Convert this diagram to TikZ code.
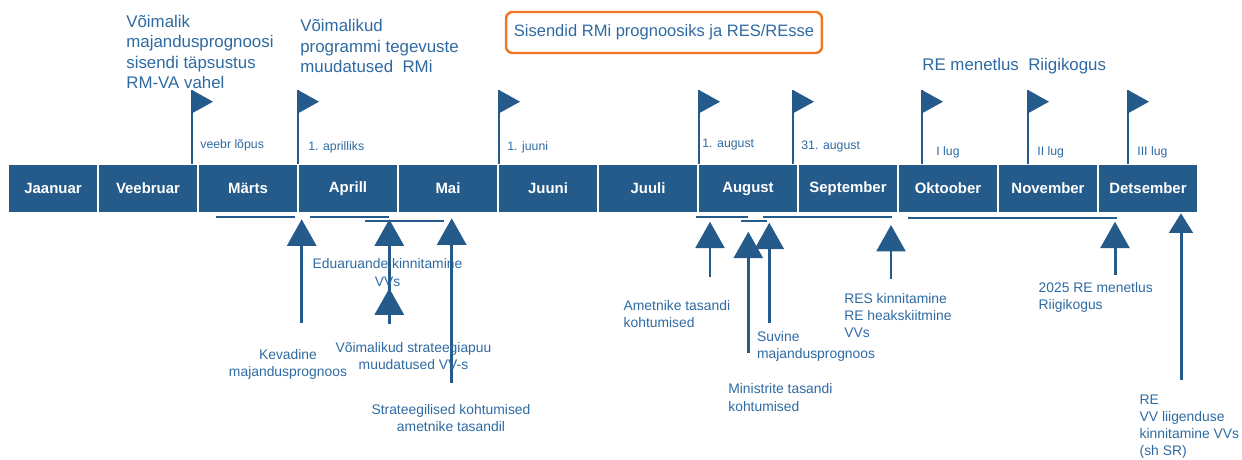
\documentclass[tikz,border=0pt]{standalone}
\usepackage{fontspec}
\setmainfont{Liberation Sans}
\usetikzlibrary{arrows.meta}
\definecolor{barblue}{RGB}{36,91,138}
\definecolor{labelblue}{RGB}{46,106,162}
\definecolor{boxorange}{RGB}{240,118,36}

\begin{document}
\begin{tikzpicture}[x=0.02cm,y=-0.02cm,
  month/.style={rectangle, fill=barblue, draw=white, line width=1.1pt,
    minimum width=2cm, minimum height=0.98cm, inner sep=0pt, outer sep=0pt,
    text=white, font=\fontsize{8.5}{10}\selectfont\bfseries},
  toplabel/.style={anchor=base west, inner sep=0pt, align=left, text=labelblue,
    font=\fontsize{9.6}{11.5}\selectfont},
  flaglabel/.style={anchor=base west, inner sep=0pt, text=labelblue,
    font=\fontsize{7}{8.4}\selectfont},
  notec/.style={anchor=base, inner sep=0pt, align=center, text=labelblue,
    font=\fontsize{7.9}{9.75}\selectfont},
  notel/.style={anchor=base west, inner sep=0pt, align=left, text=labelblue,
    font=\fontsize{7.9}{9.75}\selectfont},
  rail/.style={draw=barblue, line width=1.25pt},
  uparrow/.style={draw=barblue, line width=1.7pt,
    -{Triangle[width=0.58cm,length=0.53cm]}},
  smallarrow/.style={draw=barblue, line width=1.7pt,
    -{Triangle[width=0.47cm,length=0.39cm]}},
  flagpin/.pic={
    \draw[barblue, line width=1.1pt] (0,0) -- (0,-74);
    \fill[barblue] (0,-74) -- (21,-62.3) -- (0,-50.7) -- cycle;
  }
]
\useasboundingbox (0,0) rectangle (1242,460);

% month bar
\node[month, minimum width=1.8cm] (jan) at (53,188.5) {Jaanuar};
\node[month] (feb) at (148,188.5) {Veebruar};
\node[month] (mar) at (248,188.5) {Märts};
\node[month] (apr) at (348,188.5) {Aprill};
\node[month] (may) at (448,188.5) {Mai};
\node[month] (jun) at (548,188.5) {Juuni};
\node[month] (jul) at (648,188.5) {Juuli};
\node[month] (aug) at (748,188.5) {August};
\node[month] (sep) at (848,188.5) {September};
\node[month] (oct) at (948,188.5) {Oktoober};
\node[month] (nov) at (1048,188.5) {November};
\node[month] (dec) at (1148,188.5) {Detsember};

% periods under the bar
\draw[rail] (216,216.8) -- (295,216.8);
\draw[rail] (310,216.8) -- (389,216.8);
\draw[rail] (365,221) -- (444,221);
\draw[rail] (696,216.8) -- (748,216.8);
\draw[rail] (741,221) -- (767,221);
\draw[rail] (763,216.8) -- (892,216.8);
\draw[rail] (908,218) -- (1117,218);

% flags with deadlines
\pic at (192,164) {flagpin};
\pic at (298,164) {flagpin};
\pic at (499,164) {flagpin};
\pic at (699,164) {flagpin};
\pic at (793,164) {flagpin};
\pic at (922,164) {flagpin};
\pic at (1028,164) {flagpin};
\pic at (1128,164) {flagpin};

\node[flaglabel] (fl1) at (200,148.3) {veebr lõpus};
\node[flaglabel] (fl2) at (308,150.7) {1. aprilliks};
\node[flaglabel] (fl3) at (507,150) {1. juuni};
\node[flaglabel] (fl4) at (702,147.7) {1. august};
\node[flaglabel] (fl5) at (801,149) {31. august};
\node[flaglabel] (fl6) at (936,155) {I lug};
\node[flaglabel] (fl7) at (1037,155) {II lug};
\node[flaglabel] (fl8) at (1137,155) {III lug};

% headings above the flags (base = baseline of the last line)
\node[toplabel] (t1) at (126,88.3) {Võimalik\\majandusprognoosi\\sisendi täpsustus\\RM-VA vahel};
\node[toplabel] (t2) at (300,72.3) {Võimalikud\\programmi tegevuste\\muudatused~ RMi};
\node[toplabel] (t3) at (922,70) {RE menetlus~ Riigikogus};
\node[rectangle, rounded corners=0.13cm, draw=boxorange, line width=1.4pt,
  minimum width=6.32cm, minimum height=0.82cm, inner sep=0pt,
  text=labelblue, font=\fontsize{9.4}{11}\selectfont] (inputs) at (664,32.5)
  {Sisendid RMi prognoosiks ja RES/REsse};

% arrow end points
\coordinate (kevT) at (301.7,219.3);  \coordinate (kevB) at (301.7,323);
\coordinate (eduT) at (389.3,219.3);  \coordinate (eduB) at (389.3,324);
\coordinate (eduM) at (389.3,288.3);
\coordinate (strT) at (451.7,218.3);  \coordinate (strB) at (451.7,382.7);
\coordinate (ameT) at (710,221.7);    \coordinate (ameB) at (710,277.3);
\coordinate (minT) at (748.3,231.7);  \coordinate (minB) at (748.3,352.7);
\coordinate (suvT) at (769.3,222.7);  \coordinate (suvB) at (769.3,322.7);
\coordinate (resT) at (891,225);      \coordinate (resB) at (891,279.3);
\coordinate (rkT) at (1115,221.7);    \coordinate (rkB) at (1115,275);
\coordinate (vvT) at (1181,213.3);    \coordinate (vvB) at (1181,380);

\draw[uparrow] (kevB) -- (kevT);
\draw[uparrow] (eduB) -- (eduT);
\draw[uparrow] (eduB) -- (eduM);
\draw[uparrow] (strB) -- (strT);
\draw[uparrow] (ameB) -- (ameT);
\draw[uparrow] (minB) -- (minT);
\draw[uparrow] (suvB) -- (suvT);
\draw[uparrow] (resB) -- (resT);
\draw[uparrow] (rkB) -- (rkT);
\draw[smallarrow] (vvB) -- (vvT);

% notes below the bar (base = baseline of the last line)
\node[notec] (edu) at (387.5,286) {Eduaruande kinnitamine\\VVs};
\node[notec] (kev) at (288,376.7) {Kevadine\\majandusprognoos};
\node[notec] (vst) at (413.5,369.3) {Võimalikud strateegiapuu\\muudatused VV-s};
\node[notec] (str) at (451,431.7) {Strateegilised kohtumised\\ametnike tasandil};
\node[notel] (ame) at (623.3,327.7) {Ametnike tasandi\\kohtumised};
\node[notel] (suv) at (756.7,358.3) {Suvine\\majandusprognoos};
\node[notel] (min) at (728,411) {Ministrite tasandi\\kohtumised};
\node[notel] (res) at (844,337.7) {RES kinnitamine\\RE heakskiitmine\\VVs};
\node[notel] (rk) at (1038.3,309.3) {2025 RE menetlus\\Riigikogus};
\node[notel] (vv) at (1139.3,455.5) {RE\\VV liigenduse\\kinnitamine VVs\\(sh SR)};
\end{tikzpicture}
\end{document}
